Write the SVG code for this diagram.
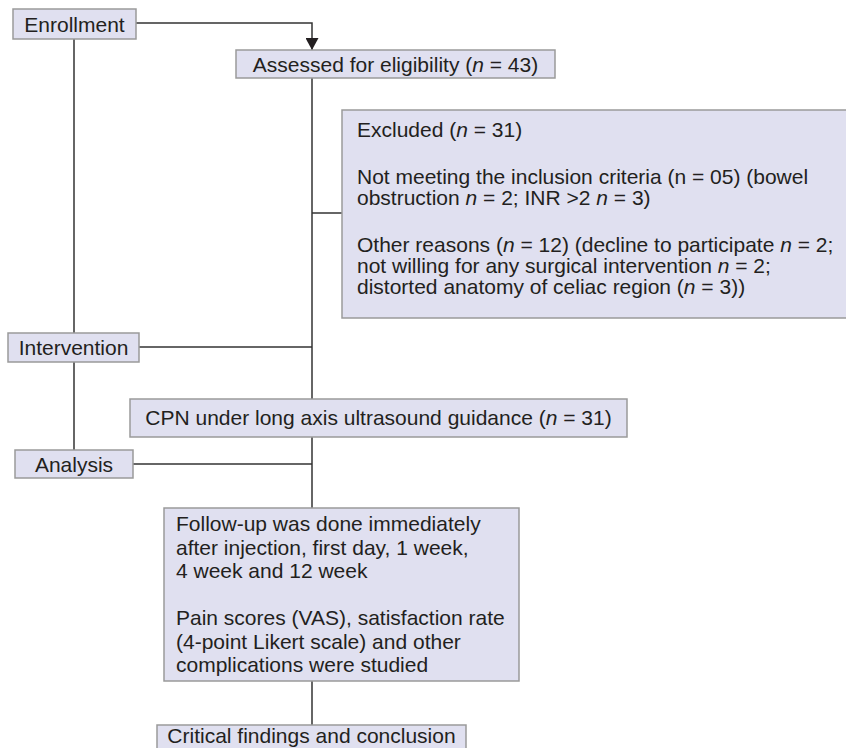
<svg xmlns="http://www.w3.org/2000/svg" width="846" height="748" viewBox="0 0 846 748">
<style>
.box{fill:#e0e0f0;stroke:#9a9a9a;stroke-width:1.5}
.t{font-family:"Liberation Sans",Arial,sans-serif;font-size:21px;fill:#231f20}
.c{fill:none;stroke:#333;stroke-width:1.5}
.i{font-style:italic}
</style>
<defs>
<marker id="arr" viewBox="0 0 12 13" refX="12" refY="6.5" markerWidth="12" markerHeight="13" markerUnits="userSpaceOnUse" orient="auto">
<path d="M0,0 L12,6.5 L0,13 Z" fill="#231f20"/>
</marker>
</defs>
<rect width="846" height="748" fill="#fff"/>
<g id="connectors">
<path class="c" d="M136,23 H312 V50" marker-end="url(#arr)"/>
<path class="c" d="M74,39 V333"/>
<path class="c" d="M74,362 V450"/>
<path class="c" d="M312,78 V399"/>
<path class="c" d="M312,213 H342"/>
<path class="c" d="M139,347 H312"/>
<path class="c" d="M133,464 H312"/>
<path class="c" d="M312,437 V508"/>
<path class="c" d="M312,681 V725"/>
</g>
<g id="enrollment">
<rect class="box" x="13" y="9" width="123" height="30"/>
<text class="t" x="74.5" y="31.5" text-anchor="middle">Enrollment</text>
</g>
<g id="assessed">
<rect class="box" x="236" y="50" width="319" height="28"/>
<text class="t" x="395.5" y="71.5" text-anchor="middle">Assessed for eligibility (<tspan class="i">n</tspan> = 43)</text>
</g>
<g id="excluded">
<rect class="box" x="342" y="110" width="510" height="208"/>
<text class="t" x="357" y="137">Excluded (<tspan class="i">n</tspan> = 31)</text>
<text class="t" x="357" y="184">Not meeting the inclusion criteria (n = 05) (bowel</text>
<text class="t" x="357" y="205">obstruction <tspan class="i">n</tspan> = 2; INR &gt;2 <tspan class="i">n</tspan> = 3)</text>
<text class="t" x="357" y="252">Other reasons (<tspan class="i">n</tspan> = 12) (decline to participate <tspan class="i">n</tspan> = 2;</text>
<text class="t" x="357" y="273">not willing for any surgical intervention <tspan class="i">n</tspan> = 2;</text>
<text class="t" x="357" y="294">distorted anatomy of celiac region (<tspan class="i">n</tspan> = 3))</text>
</g>
<g id="intervention">
<rect class="box" x="8" y="333" width="131" height="29"/>
<text class="t" x="73.5" y="355" text-anchor="middle">Intervention</text>
</g>
<g id="cpn">
<rect class="box" x="130" y="399" width="497" height="38"/>
<text class="t" x="378.5" y="425" text-anchor="middle">CPN under long axis ultrasound guidance (<tspan class="i">n</tspan> = 31)</text>
</g>
<g id="analysis">
<rect class="box" x="15" y="450" width="118" height="28"/>
<text class="t" x="74" y="471.5" text-anchor="middle">Analysis</text>
</g>
<g id="followup">
<rect class="box" x="164" y="508" width="355" height="173"/>
<text class="t" x="176" y="531">Follow-up was done immediately</text>
<text class="t" x="176" y="554.5">after injection, first day, 1 week,</text>
<text class="t" x="176" y="578">4 week and 12 week</text>
<text class="t" x="176" y="625">Pain scores (VAS), satisfaction rate</text>
<text class="t" x="176" y="648.5">(4-point Likert scale) and other</text>
<text class="t" x="176" y="672">complications were studied</text>
</g>
<g id="critical">
<rect class="box" x="157" y="725" width="309" height="35"/>
<text class="t" x="311.5" y="743" text-anchor="middle">Critical findings and conclusion</text>
</g>
</svg>
